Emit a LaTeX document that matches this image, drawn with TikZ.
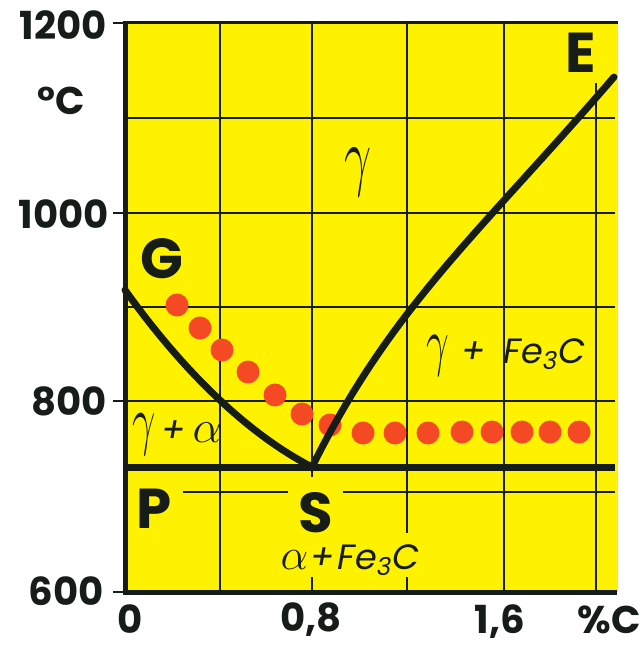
\RequirePackage{fix-cm}
\documentclass[tikz,border=0pt]{standalone}
\usepackage{fontspec}
\usepackage{graphicx}
\newfontfamily\labelfont{Poppins}
\usetikzlibrary{positioning}
\definecolor{paperyellow}{RGB}{255,242,0}
\definecolor{dotred}{RGB}{245,72,36}
\definecolor{ink}{RGB}{22,28,24}
\newcommand{\phgamma}[1]{{\fontsize{#1}{#1}\selectfont\scalebox{0.62}[1]{$\gamma$}}}
\newcommand{\phalpha}[1]{{\fontsize{#1}{#1}\selectfont$\alpha$}}

\begin{document}
\begin{tikzpicture}[
  x=0.02cm, y=-0.02cm,
  numlbl/.style={font=\labelfont\bfseries\fontsize{22}{22}\selectfont, text=ink,
                 inner sep=0pt},
  ptlbl/.style={font=\labelfont\bfseries\fontsize{32}{32}\selectfont, text=ink,
                inner sep=0pt},
  phaselbl/.style={font=\labelfont\itshape\fontsize{20}{20}\selectfont, text=ink,
                   inner sep=0pt},
  gridline/.style={draw=ink, line width=0.04cm},
  axisline/.style={draw=ink, line width=0.1cm},
  phaseline/.style={draw=ink, line width=0.14cm, line cap=round},
  reddot/.style={fill=dotred}
]

\useasboundingbox (0,0) rectangle (642,645);

%--- Paper ---
\fill[paperyellow] (125,23) rectangle (618,592);

%--- Grid (left open round the labels) ---
\draw[gridline] (125,118) -- (615,118)  (125,213) -- (615,213)
                (125,307) -- (615,307)  (125,401) -- (615,401)
                (183,492) -- (288,492)  (343,492) -- (615,492);
\draw[gridline] (220,23) -- (220,592)
                (312,23) -- (312,477)  (312,577) -- (312,592)
                (407,23) -- (407,533)  (407,577) -- (407,592)
                (504,23) -- (504,592)
                (596,83) -- (596,592);

%--- Point labels ---
\node[ptlbl, anchor=base] (labG) at (162,278) {G};
\node[ptlbl, anchor=base] (labE) at (581,73)  {E};
\node[ptlbl, anchor=base] (labP) at (154,528) {P};
\node[ptlbl, anchor=base] (labS) at (316,532) {S};

%--- Phase fields ---
\node[phaselbl] (gam)   at (358,172) {\phgamma{44}};
\node[phaselbl] (gamfe) at (506,356) {\phgamma{37}\hspace{0.25cm}+\hspace{0.35cm}Fe\textsubscript{3}C};
\node[phaselbl] (gamal) at (177,435) {\phgamma{38}\hspace{0.1cm}+\hspace{0.15cm}\phalpha{26}};
\node[phaselbl, anchor=base] (alfe) at (350,569)
     {\phalpha{25}\hspace{0.05cm}+\hspace{0.05cm}Fe\textsubscript{3}C};

%--- Frame and ticks ---
\draw[ink, line width=0.06cm] (125,23) -- (618,23);
\draw[axisline] (125,21) -- (125,594);
\draw[axisline] (123,592) -- (617,592);
\draw[ink, line width=0.05cm] (113,23) -- (125,23)  (113,213) -- (125,213)
                               (113,401) -- (125,401) (113,592) -- (125,592);

%--- Axis labels ---
\node[numlbl, anchor=base east] (t1200) at (107,40)  {1200};
\node[numlbl, anchor=base]      (unitT) at (61,115)  {°C};
\node[numlbl, anchor=base east] (t1000) at (109,228) {1000};
\node[numlbl, anchor=base east] (t800)  at (107,415) {800};
\node[numlbl, anchor=base east] (t600)  at (104,605) {600};
\node[numlbl, anchor=base] (c0)  at (130,633) {0};
\node[numlbl, anchor=base] (c08) at (311,631) {0,8};
\node[numlbl, anchor=base] (c16) at (500,633) {1,6};
\node[numlbl, anchor=base] (unitC) at (609,633) {\%C};

%--- Red dots ---
\fill[reddot] (177,305) circle[radius=0.23cm]  (200,328) circle[radius=0.23cm]
              (222,350) circle[radius=0.23cm]  (248,372) circle[radius=0.23cm]
              (275,395) circle[radius=0.23cm]  (302,414) circle[radius=0.23cm]
              (330,425) circle[radius=0.23cm]  (363,433) circle[radius=0.23cm]
              (395,433) circle[radius=0.23cm]  (428,433) circle[radius=0.23cm]
              (462,432) circle[radius=0.23cm]  (492,432) circle[radius=0.23cm]
              (522,432) circle[radius=0.23cm]  (550,432) circle[radius=0.23cm]
              (579,432) circle[radius=0.23cm];

%--- Phase boundaries ---
\coordinate (G) at (125,290);
\coordinate (S) at (312,467);
\coordinate (E) at (614,77);
\coordinate (P) at (125,467);
\coordinate (K) at (615,467);
\draw[phaseline] (G) .. controls (175,360) and (240,430) .. (S);
\draw[phaseline] (S) .. controls (392,306) and (476,237) .. (E);
\draw[phaseline, line cap=butt] (P) -- (K);

\end{tikzpicture}
\end{document}
